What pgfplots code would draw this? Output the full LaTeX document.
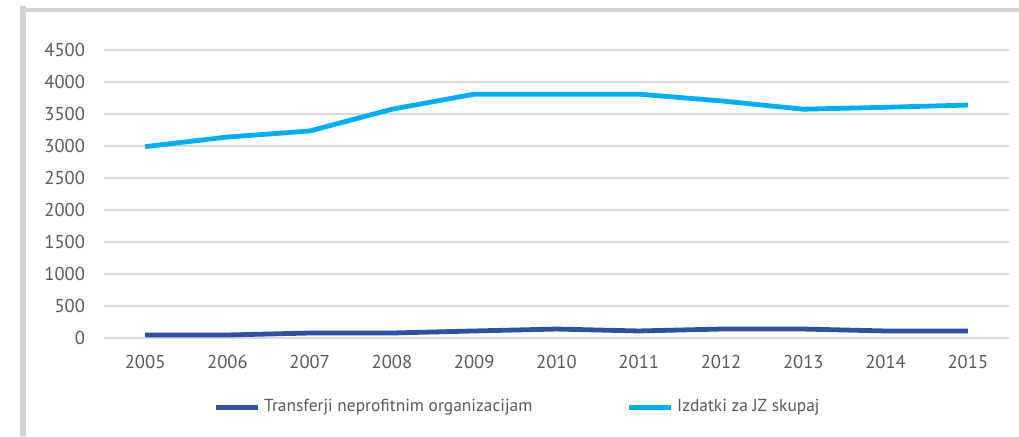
\documentclass[border=0pt]{standalone}
\usepackage{fontspec}
\setmainfont{PT Sans}
\usepackage{pgfplots}
\pgfplotsset{compat=1.18}
\definecolor{cyanline}{RGB}{0,174,239}
\definecolor{navyline}{RGB}{47,82,160}
\definecolor{gridgray}{RGB}{217,217,217}
\definecolor{labelgray}{RGB}{89,89,89}
\definecolor{framegray}{RGB}{210,210,210}

\begin{document}
\begin{tikzpicture}[x=1pt,y=1pt]
% page area and frame (1px = 0.5pt, origin at lower left of plot area)
\path[use as bounding box] (-52,-49) rectangle (457.5,169);
\fill[framegray] (-42,-49) rectangle (-39,166);
\fill[framegray] (-42,163) rectangle (457.5,165);
\begin{axis}[
  at={(0,0)}, anchor=south west,
  scale only axis,
  width=452.5pt, height=144pt,
  xmin=-0.5, xmax=10.5,
  ymin=0, ymax=4500,
  xtick={0,...,10},
  xticklabels={2005,2006,2007,2008,2009,2010,2011,2012,2013,2014,2015},
  ytick={0,500,...,4500},
  ymajorgrids=true,
  grid style={gridgray, line width=1pt},
  axis line style={draw=none},
  major tick length=0pt,
  tick label style={font=\fontsize{9.3}{10}\selectfont, text=labelgray},
  /pgf/number format/assume math mode=true,
  /pgf/number format/set thousands separator={},
  yticklabel style={xshift=-6pt},
  xticklabel style={yshift=-5pt},
  legend style={at={(0.458,-0.24)}, anchor=center, draw=none, fill=none,
    legend columns=2, font=\fontsize{8.7}{10}\selectfont, text=labelgray,
    /tikz/every even column/.append style={column sep=45pt}},
  legend image code/.code={\draw[#1] (0pt,0pt) -- (21pt,0pt);},
  legend cell align=left,
]
\addplot[navyline, line width=2.4pt] coordinates {
  (0,47) (1,47) (2,78) (3,78) (4,110) (5,140) (6,110) (7,140) (8,140) (9,110) (10,110)};
\addlegendentry{Transferji neprofitnim organizacijam}
\addplot[cyanline, line width=2.4pt] coordinates {
  (0,2990) (1,3140) (2,3235) (3,3575) (4,3810) (5,3810) (6,3810) (7,3705) (8,3575) (9,3605) (10,3640)};
\addlegendentry{Izdatki za JZ skupaj}
\end{axis}
\end{tikzpicture}
\end{document}
